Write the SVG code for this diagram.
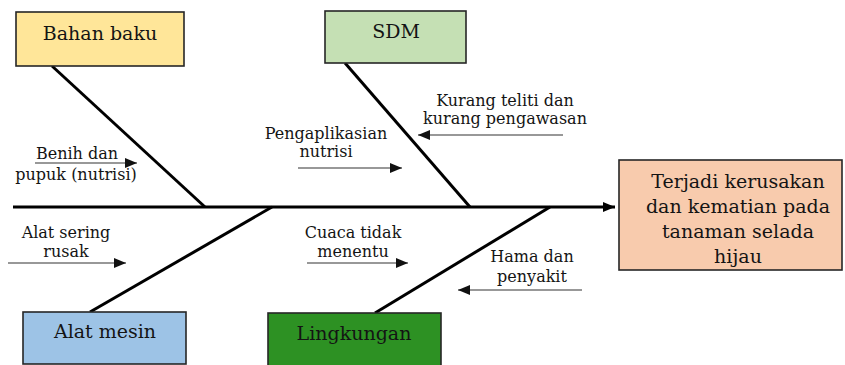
<svg xmlns="http://www.w3.org/2000/svg" width="845" height="365" viewBox="0 0 845 365">
<style>
.box{stroke:#262626;stroke-width:1.6}
.t{font-family:"DejaVu Serif","Liberation Serif",serif;fill:#141414;text-anchor:middle}
.big{font-size:19px}
.small{font-size:16px}
.bone{stroke:#000;stroke-width:3;fill:none;stroke-linecap:butt}
.sub{stroke:#333;stroke-width:1.1;fill:none}
</style>
<defs>
<marker id="ah" markerUnits="userSpaceOnUse" markerWidth="13" markerHeight="11" refX="12" refY="5" orient="auto">
<path d="M0,0 L12,5 L0,10 Z" fill="#000"/>
</marker>
<marker id="sh" markerUnits="userSpaceOnUse" markerWidth="13" markerHeight="11" refX="12" refY="5" orient="auto">
<path d="M0,0 L12,5 L0,10 Z" fill="#111"/>
</marker>
</defs>
<rect width="845" height="365" fill="#fff"/>
<g id="connectors">
<line class="bone" x1="13" y1="207" x2="615" y2="207" marker-end="url(#ah)"/>
<line class="bone" x1="52" y1="66" x2="205" y2="207"/>
<line class="bone" x1="345" y1="63" x2="470" y2="207"/>
<line class="bone" x1="90" y1="312" x2="272" y2="207"/>
<line class="bone" x1="375" y1="313" x2="550" y2="207"/>
<line class="sub" x1="35" y1="163" x2="137" y2="163" marker-end="url(#sh)"/>
<line class="sub" x1="298" y1="168" x2="402" y2="168" marker-end="url(#sh)"/>
<line class="sub" x1="563" y1="135" x2="418" y2="135" marker-end="url(#sh)"/>
<line class="sub" x1="8" y1="263" x2="126" y2="263" marker-end="url(#sh)"/>
<line class="sub" x1="307" y1="263" x2="408" y2="263" marker-end="url(#sh)"/>
<line class="sub" x1="582" y1="290" x2="458" y2="290" marker-end="url(#sh)"/>
</g>
<g id="bahan-baku">
<rect class="box" x="16" y="12" width="168" height="54" fill="#FFE699"/>
<text class="t big" x="100" y="40">Bahan baku</text>
</g>
<g id="sdm">
<rect class="box" x="325" y="11" width="141" height="52" fill="#C5E0B4"/>
<text class="t big" x="396" y="38">SDM</text>
</g>
<g id="alat-mesin">
<rect class="box" x="23" y="312" width="163" height="52" fill="#9DC3E6"/>
<text class="t big" x="105" y="338">Alat mesin</text>
</g>
<g id="lingkungan">
<rect class="box" x="268" y="313" width="173" height="53" fill="#2D9123"/>
<text class="t big" x="354" y="340">Lingkungan</text>
</g>
<g id="effect">
<rect class="box" x="619" y="160" width="223" height="110" fill="#F8CBAD"/>
<text class="t big" x="738" y="188">Terjadi kerusakan</text>
<text class="t big" x="738" y="213">dan kematian pada</text>
<text class="t big" x="738" y="238">tanaman selada</text>
<text class="t big" x="738" y="263">hijau</text>
</g>
<g id="cause-benih">
<text class="t small" x="77" y="159">Benih dan</text>
<text class="t small" x="76" y="180">pupuk (nutrisi)</text>
</g>
<g id="cause-pengaplikasian">
<text class="t small" x="326" y="139">Pengaplikasian</text>
<text class="t small" x="326" y="157">nutrisi</text>
</g>
<g id="cause-kurang">
<text class="t small" x="505" y="106">Kurang teliti dan</text>
<text class="t small" x="505" y="124">kurang pengawasan</text>
</g>
<g id="cause-alat">
<text class="t small" x="66" y="238">Alat sering</text>
<text class="t small" x="66" y="257">rusak</text>
</g>
<g id="cause-cuaca">
<text class="t small" x="353" y="238">Cuaca tidak</text>
<text class="t small" x="353" y="257">menentu</text>
</g>
<g id="cause-hama">
<text class="t small" x="532" y="262">Hama dan</text>
<text class="t small" x="532" y="282">penyakit</text>
</g>
</svg>
